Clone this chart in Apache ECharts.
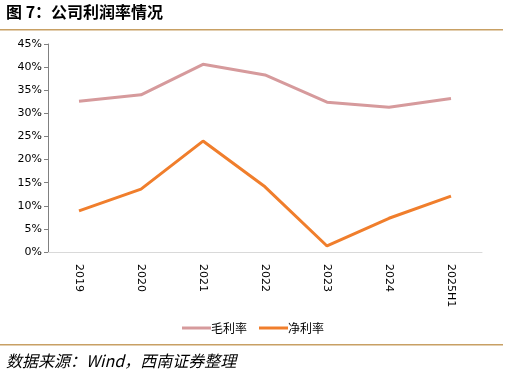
<!DOCTYPE html>
<html><head><meta charset="utf-8">
<script src="https://cdn.jsdelivr.net/npm/echarts@6/dist/echarts.min.js"></script>
<style>html,body{margin:0;padding:0;background:#fff}#c{width:508px;height:378px}</style>
</head><body><div id="c"></div>
<script>
const categories = ['2019','2020','2021','2022','2023','2024','2025H1'];
const grossMargin = [32.6, 34.0, 40.6, 38.3, 32.4, 31.3, 33.2];
const netMargin = [8.9, 13.6, 24.0, 14.1, 1.3, 7.3, 12.1];
const yTicks = { min: 0, max: 45, interval: 5 };

const chart = echarts.init(document.getElementById('c'), null, {renderer: 'canvas'});
chart.setOption({
  animation: false,
  backgroundColor: '#fff',
  graphic: [
    {type: 'text', left: 6, top: 4, style: {text: '图 7：公司利润率情况', font: 'bold 16px "Noto Sans CJK SC"', fill: '#000'}},
    {type: 'rect', shape: {x: 0, y: 29, width: 503, height: 1.5}, style: {fill: '#C8A064'}},
    {type: 'rect', shape: {x: 0, y: 344, width: 503, height: 1.5}, style: {fill: '#C8A064'}},
    {type: 'text', left: 6, top: 353, style: {text: '数据来源：Wind，西南证券整理', font: 'italic 16px "Noto Sans CJK SC"', fill: '#000'}}
  ],
  grid: {left: 48, right: 26, top: 44, bottom: 126, containLabel: false},
  legend: {
    top: 317, left: 177,
    itemWidth: 29, itemHeight: 3, itemGap: 12,
    icon: 'rect',
    textStyle: {fontSize: 12, color: '#000', fontFamily: '"Noto Sans CJK SC"', padding: [0,0,0,-5]},
    data: ['毛利率', '净利率']
  },
  xAxis: {
    type: 'category', data: categories, boundaryGap: true,
    axisLine: {lineStyle: {color: '#D9D9D9', width: 1}},
    axisTick: {show: false},
    axisLabel: {rotate: -90, color: '#000', fontSize: 11, fontFamily: 'DejaVu Sans', margin: 12}
  },
  yAxis: {
    type: 'value', min: yTicks.min, max: yTicks.max, interval: yTicks.interval,
    axisLine: {show: true, lineStyle: {color: '#808080'}},
    axisTick: {show: true, inside: false, length: 4, lineStyle: {color: '#808080'}},
    splitLine: {show: false},
    axisLabel: {formatter: '{value}%', color: '#000', fontSize: 11, fontFamily: 'DejaVu Sans', margin: 6}
  },
  series: [
    {name: '毛利率', type: 'line', data: grossMargin, symbol: 'none', lineStyle: {color: '#D69A9C', width: 3}, itemStyle: {color: '#D69A9C'}},
    {name: '净利率', type: 'line', data: netMargin, symbol: 'none', lineStyle: {color: '#F07E2C', width: 3}, itemStyle: {color: '#F07E2C'}}
  ]
});
</script></body></html>
